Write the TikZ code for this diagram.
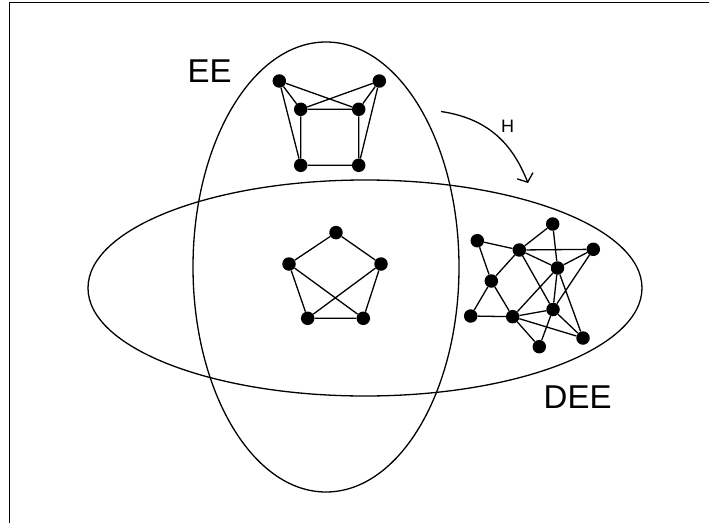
\documentclass[tikz,border=0pt]{standalone}
\usepackage{fontspec}
\setmainfont{Liberation Sans}
\usetikzlibrary{arrows.meta}
\tikzset{
  vtx/.style={circle, fill=black, inner sep=0pt, minimum size=13.5pt},
  edge/.style={line width=1.3pt},
  setline/.style={line width=1.3pt},
  frame/.style={line width=1.4pt},
  setlabel/.style={font=\fontsize{33}{40}\selectfont, inner sep=0pt, anchor=base west},
  maplabel/.style={font=\fontsize{18}{22}\selectfont, inner sep=0pt, anchor=base west},
  maparrow/.style={-{Straight Barb[length=7pt, width=17pt]}, line width=1.3pt}
}

\begin{document}
\begin{tikzpicture}[x=1pt, y=-1pt]
    \useasboundingbox (0,0) rectangle (709,522);
    \draw[frame] (9.5,2.5) rectangle (716,530);
    % the two classes
    \draw[setline] (326,267) ellipse [x radius=133pt, y radius=225pt];
    \draw[setline] (365,288) ellipse [x radius=277pt, y radius=108pt];
    \node[setlabel] (ee) at (187.5,82) {EE};
    \node[setlabel] (dee) at (543.5,408) {DEE};
    % graph in EE only
    \node[vtx] (a1) at (279.3,81) {};
    \node[vtx] (a2) at (379.3,81) {};
    \node[vtx] (a3) at (300.7,109.3) {};
    \node[vtx] (a4) at (358.7,109.3) {};
    \node[vtx] (a5) at (300.7,165.3) {};
    \node[vtx] (a6) at (358.7,165.3) {};
    \draw[edge] (a1) -- (a4) (a2) -- (a3) (a1) -- (a3) (a2) -- (a4)
                (a3) -- (a4) (a3) -- (a5) (a4) -- (a6) (a5) -- (a6)
                (a1) -- (a5) (a2) -- (a6);
    % graph in both
    \node[vtx] (p1) at (336,232.6) {};
    \node[vtx] (p2) at (289,264) {};
    \node[vtx] (p3) at (381,264) {};
    \node[vtx] (p4) at (307.7,318.3) {};
    \node[vtx] (p5) at (363.3,318.3) {};
    \draw[edge] (p1) -- (p2) (p1) -- (p3) (p2) -- (p4) (p3) -- (p5)
                (p4) -- (p5) (p2) -- (p5) (p3) -- (p4);
    % graph in DEE only
    \node[vtx] (d1) at (477.3,240.7) {};
    \node[vtx] (d2) at (519.3,250) {};
    \node[vtx] (d3) at (552.7,224) {};
    \node[vtx] (d4) at (593.3,249.3) {};
    \node[vtx] (d5) at (557.5,268) {};
    \node[vtx] (d6) at (491.3,281) {};
    \node[vtx] (d7) at (470.7,316) {};
    \node[vtx] (d8) at (512.7,316.7) {};
    \node[vtx] (d9) at (553,309.5) {};
    \node[vtx] (d10) at (583,338) {};
    \node[vtx] (d11) at (539.3,346.7) {};
    \draw[edge] (d1) -- (d2) (d1) -- (d6) (d2) -- (d3) (d2) -- (d4)
                (d2) -- (d5) (d2) -- (d6) (d2) -- (d9) (d3) -- (d5)
                (d4) -- (d5) (d4) -- (d9) (d5) -- (d8) (d5) -- (d9)
                (d5) -- (d10) (d6) -- (d7) (d6) -- (d8) (d7) -- (d8)
                (d8) -- (d9) (d8) -- (d10) (d8) -- (d11) (d9) -- (d11)
                (d9) -- (d10);
    % the map H
    \coordinate (hs) at (441,111.5);
    \coordinate (he) at (528,183);
    \draw[maparrow] (hs) .. controls (492,119) and (514,148) .. (he);
    \node[maplabel] (h) at (501,132.3) {H};
\end{tikzpicture}
\end{document}
